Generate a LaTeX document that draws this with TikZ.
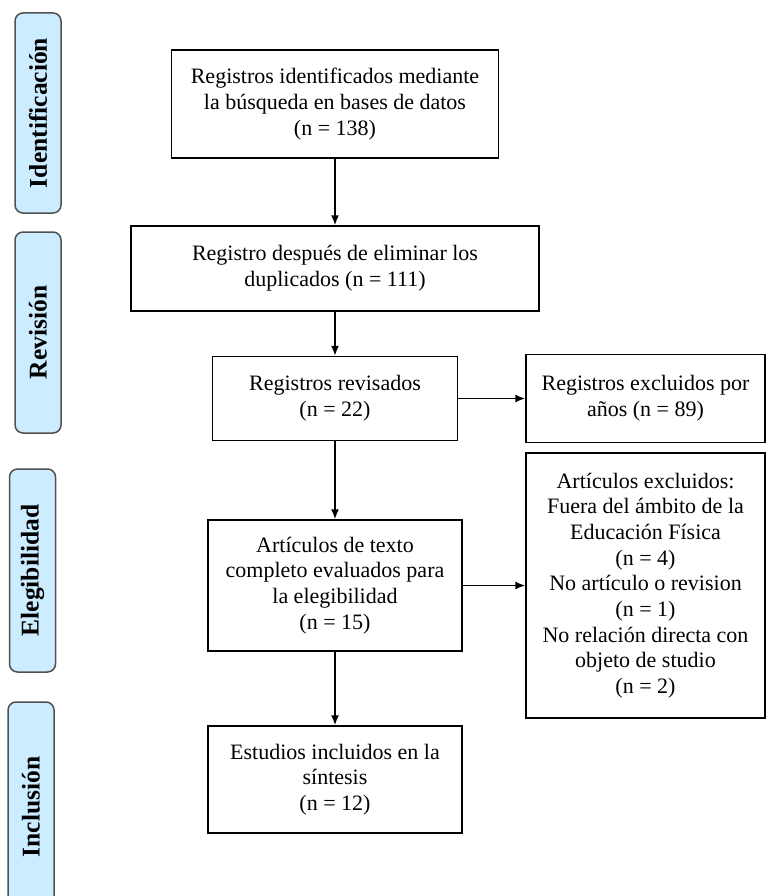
\documentclass[tikz,border=0pt]{standalone}
\usepackage{fontspec}
\setmainfont{Liberation Serif}
\usetikzlibrary{arrows.meta}
\definecolor{stagefill}{RGB}{204,236,255}
\definecolor{stageline}{RGB}{80,80,80}
\begin{document}
\begin{tikzpicture}[x=1pt,y=-1pt,
    box/.style={draw,line width=1.4pt,inner sep=0pt,align=center,
      font=\fontsize{22}{25.7}\selectfont},
    stage/.style={draw=stageline,fill=stagefill,line width=1.5pt,rounded corners=8pt,
      inner sep=0pt,minimum height=46pt,rotate=90,
      font=\bfseries\fontsize{25.5}{28}\selectfont},
    arr/.style={-{Latex[length=10pt,width=8pt]},line width=1.6pt}]
      \useasboundingbox (0,0) rectangle (766,896);
      % fases
      \node[stage,minimum width=200pt] (ident) at (38,113) {Identificación};
      \node[stage,minimum width=201pt] (revis) at (38,332.5) {Revisión};
      \node[stage,minimum width=203pt] (elegi) at (32.5,570.5) {Elegibilidad};
      \node[stage,minimum width=210pt] (inclu) at (31,807) {Inclusión};
      % cajas
      \node[box,minimum width=327pt,minimum height=108pt] (ident0) at (335,104)
        {Registros identificados mediante\\la búsqueda en bases de datos\\(n = 138)};
      \node[box,minimum width=408pt,minimum height=85pt] (dupl) at (335,268.5)
        {Registro después de eliminar los\\duplicados (n = 111)};
      \node[box,minimum width=245pt,minimum height=84pt] (revs) at (335,398.5)
        {Registros revisados\\(n = 22)};
      \node[box,minimum width=239pt,minimum height=88pt] (excl1) at (645.5,398.5)
        {Registros excluidos por\\años (n = 89)};
      \node[box,minimum width=254pt,minimum height=131pt] (texto) at (335,585.5)
        {Artículos de texto\\completo evaluados para\\la elegibilidad\\(n = 15)};
      \node[box,minimum width=239pt,minimum height=265pt] (excl2) at (645.5,585.5)
        {Artículos excluidos:\\Fuera del ámbito de la\\Educación Física\\(n = 4)\\No artículo o revision\\(n = 1)\\No relación directa con\\objeto de studio\\(n = 2)};
      \node[box,minimum width=254pt,minimum height=107pt] (sint) at (335,779.5)
        {Estudios incluidos en la\\síntesis\\(n = 12)};
      % flechas
      \draw[arr] (ident0) -- (dupl);
      \draw[arr] (dupl) -- (revs);
      \draw[arr] (revs) -- (excl1);
      \draw[arr] (revs) -- (texto);
      \draw[arr] (texto) -- (excl2);
      \draw[arr] (texto) -- (sint);
\end{tikzpicture}
\end{document}
